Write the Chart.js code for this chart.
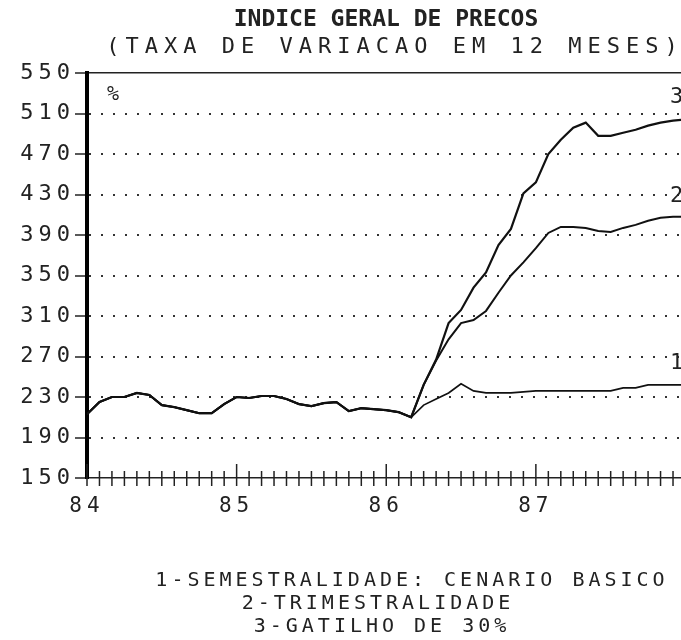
<!DOCTYPE html>
<html lang="pt">
<head>
<meta charset="utf-8">
<title>Indice Geral de Precos</title>
<script src="https://cdn.jsdelivr.net/npm/chart.js@4.4.0/dist/chart.umd.min.js"></script>
<style>
  html, body { margin: 0; padding: 0; background: #fff; }
  canvas { display: block; }
</style>
</head>
<body>
<canvas id="grafico" width="681" height="640"></canvas>
<script>
// Rotulos dos eixos
const anos = ["84", "85", "86", "87"];
const ticksY = [150, 190, 230, 270, 310, 350, 390, 430, 470, 510, 550];

// Trecho comum aos tres cenarios (jan/84 a mar/86), um valor por mes
const comum = [213, 225, 230, 230, 234, 232, 222, 220, 217, 214, 214, 223,
               230, 229, 231, 231, 228, 223, 221, 224, 225, 216, 219, 218,
               217, 215, 210];

// De abr/86 em diante, cada cenario segue seu caminho
const cenario1 = [222, 228, 234, 243, 236, 234, 234, 234, 235, 236, 236,
                  236, 236, 236, 236, 236, 239, 239, 242, 242, 242, 242];
const cenario2 = [242, 266, 287, 303, 306, 315, 333, 350, 363, 377, 392,
                  398, 398, 397, 394, 393, 397, 400, 404, 407, 408, 408];
const cenario3 = [242, 267, 303, 316, 338, 353, 380, 396, 431, 442, 470,
                  484, 496, 501, 488, 488, 491, 494, 498, 501, 503, 504];

const corTexto = "#222";
const fonte = "'DejaVu Sans Mono', 'Liberation Mono', monospace";

// Transforma a lista de valores mensais em pontos {x: mes, y: valor}
function pontos(valores) {
    return valores.map((v, i) => ({ x: i, y: v }));
}

// Textos desenhados por cima do grafico (titulo, subtitulo, legenda)
function escrever(ctx, texto, x, y, tamanho, espaco, negrito, alinhar) {
    ctx.font = (negrito ? "bold " : "") + tamanho + "px " + fonte;
    ctx.letterSpacing = espaco + "px";
    ctx.textAlign = alinhar || "center";
    ctx.textBaseline = "middle";
    const ajuste = (alinhar || "center") === "center" ? espaco / 2 : 0;
    ctx.fillText(texto, x + ajuste, y);
}

const textos = {
    id: "textos",
    beforeDraw(chart) {
        // espaco entre letras dos rotulos dos eixos (parecido com a impressora)
        chart.ctx.letterSpacing = "5px";
    },
    afterDraw(chart) {
        const ctx = chart.ctx;
        ctx.save();
        ctx.fillStyle = corTexto;
        escrever(ctx, "INDICE GERAL DE PRECOS", 386, 20, 23, 0, true);
        escrever(ctx, "(TAXA DE VARIACAO EM 12 MESES)", 392, 47, 22, 6, false);
        escrever(ctx, "%", 113, 95, 20, 0, false);
        // numero de cada cenario no fim da linha
        escrever(ctx, "3", 670, 97, 22, 0, false, "left");
        escrever(ctx, "2", 670, 196, 22, 0, false, "left");
        escrever(ctx, "1", 670, 363, 22, 0, false, "left");
        // legenda
        escrever(ctx, chart.data.datasets[0].label, 410, 581, 20, 4, false);
        escrever(ctx, chart.data.datasets[1].label, 376, 604, 20, 4, false);
        escrever(ctx, chart.data.datasets[2].label, 380, 627, 20, 4, false);
        ctx.restore();
    },
};

// Marcas mensais cruzando o eixo horizontal (anos com marca maior)
const marcasMensais = {
    id: "marcasMensais",
    afterDraw(chart) {
        const { ctx, scales: { x } } = chart;
        const y0 = x.top;
        ctx.save();
        ctx.strokeStyle = corTexto;
        ctx.lineWidth = 1.5;
        x.ticks.forEach((t) => {
            const px = x.getPixelForValue(t.value);
            const alto = t.value % 12 === 0 ? 14 : 7;
            ctx.beginPath();
            ctx.moveTo(px, y0 - alto);
            ctx.lineTo(px, y0 + 8);
            ctx.stroke();
        });
        ctx.restore();
    },
};

const ctx = document.getElementById("grafico");
new Chart(ctx, {
    type: "line",
    data: {
        datasets: [
            { label: "1-SEMESTRALIDADE: CENARIO BASICO", data: pontos(comum.concat(cenario1)), borderWidth: 1.7 },
            { label: "2-TRIMESTRALIDADE", data: pontos(comum.concat(cenario2)), borderWidth: 2 },
            { label: "3-GATILHO DE 30%", data: pontos(comum.concat(cenario3)), borderWidth: 2.2 },
        ],
    },
    options: {
        responsive: false,
        animation: false,
        layout: { padding: { top: 73, right: 0, bottom: 122, left: 0 } },
        elements: {
            point: { radius: 0 },
            line: { borderColor: "#111", tension: 0, fill: false },
        },
        plugins: {
            legend: { display: false },
            tooltip: { enabled: false },
        },
        scales: {
            x: {
                type: "linear",
                min: 0,
                max: 47.64,
                afterBuildTicks: (s) => {
                    s.ticks = comum.concat(cenario1).slice(0, 48).map((v, i) => ({ value: i }));
                },
                afterFit: (s) => {
                    s.height = 40;
                    s.paddingLeft = 0;
                    s.paddingRight = 0;
                },
                grid: { drawOnChartArea: false, drawTicks: false },
                border: { color: corTexto, width: 1.5 },
                ticks: {
                    autoSkip: false,
                    maxRotation: 0,
                    padding: 16,
                    color: corTexto,
                    font: { family: fonte, size: 21 },
                    callback: (v) => (v % 12 === 0 ? anos[v / 12] : ""),
                },
            },
            x2: {
                type: "linear",
                position: "top",
                display: true,
                min: 0,
                max: 47.64,
                afterFit: (s) => {
                    s.height = 0;
                    s.paddingLeft = 0;
                    s.paddingRight = 0;
                },
                grid: { display: false, drawTicks: false },
                ticks: { display: false },
                border: { color: corTexto, width: 1.5 },
            },
            y: {
                min: 150,
                max: 550,
                afterBuildTicks: (s) => {
                    s.ticks = ticksY.map((v) => ({ value: v }));
                },
                afterFit: (s) => { s.width = 87; },
                grid: {
                    color: (c) => (c.tick && (c.tick.value === 150 || c.tick.value === 550) ? "rgba(0,0,0,0)" : "#333"),
                    lineWidth: 2,
                    tickColor: corTexto,
                    tickLength: 12,
                    tickWidth: 1.5,
                },
                border: { color: "#000", width: 4, dash: [2, 10] },
                ticks: {
                    padding: 0,
                    color: corTexto,
                    font: { family: fonte, size: 22 },
                },
            },
        },
    },
    plugins: [textos, marcasMensais],
});
</script>
</body>
</html>
